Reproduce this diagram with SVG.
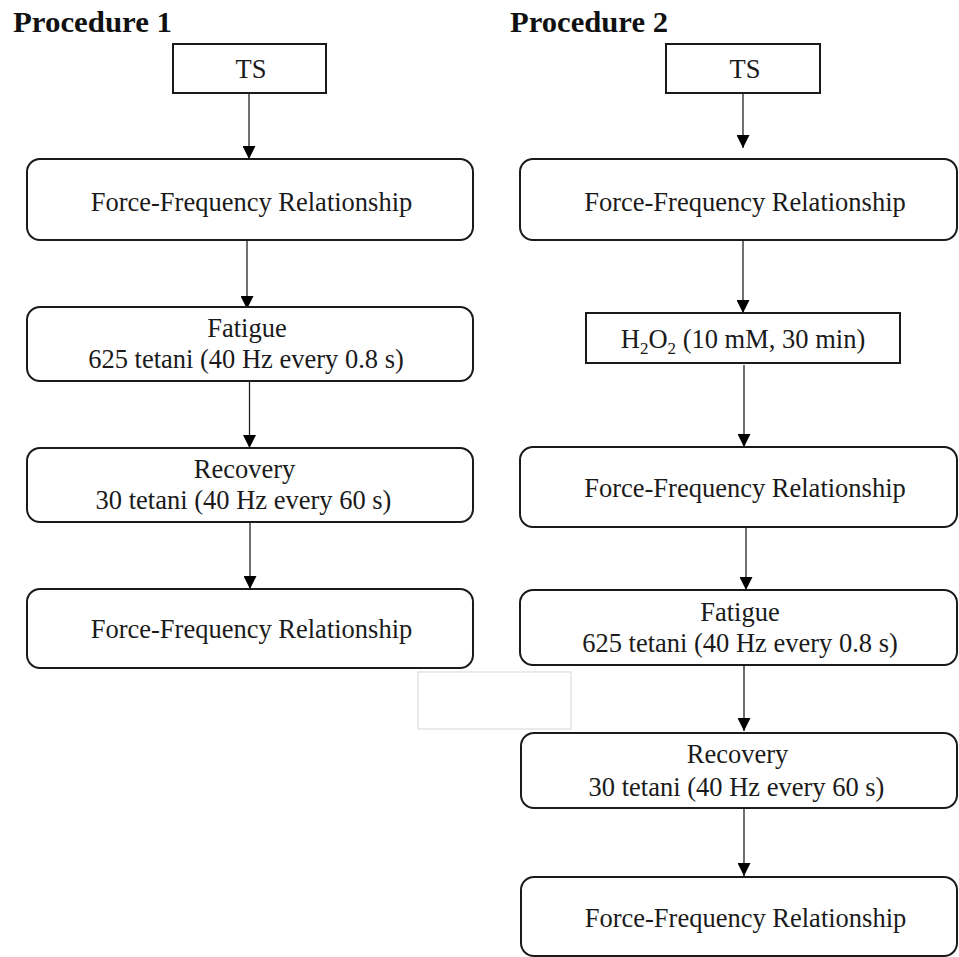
<svg xmlns="http://www.w3.org/2000/svg" width="959" height="957" viewBox="0 0 959 957">
<defs>
<marker id="ah" markerUnits="userSpaceOnUse" markerWidth="13" markerHeight="13" viewBox="0 0 12 12" refX="12" refY="6" orient="auto">
<path d="M0,0 L12,6 L0,12 Z" fill="#000"/>
</marker>
<style>
.box{fill:#fff;stroke:#1a1a1a;stroke-width:2}
.t{font-family:"Liberation Serif","Times New Roman",serif;font-size:26.5px;fill:#1a1a1a;text-anchor:middle}
.h{font-family:"Liberation Serif","Times New Roman",serif;font-size:29px;font-weight:bold;fill:#111}
.c{stroke:#222;stroke-width:1.3;fill:none;marker-end:url(#ah)}
</style>
</defs>
<rect width="959" height="957" fill="#fff"/>
<text class="h" x="13" y="32" textLength="159" lengthAdjust="spacingAndGlyphs">Procedure 1</text>
<text class="h" x="510" y="32" textLength="158" lengthAdjust="spacingAndGlyphs">Procedure 2</text>
<rect x="418" y="672" width="153" height="57" fill="none" stroke="#d6d6d6" stroke-width="1"/>
<g id="connectors">
<line class="c" x1="249" y1="93" x2="249" y2="159"/>
<line class="c" x1="247" y1="240" x2="247" y2="309"/>
<line class="c" x1="249.5" y1="381" x2="249.5" y2="448"/>
<line class="c" x1="250" y1="522" x2="250" y2="589"/>
<line class="c" x1="743" y1="93" x2="743" y2="148"/>
<line class="c" x1="743" y1="240" x2="743" y2="313"/>
<line class="c" x1="744" y1="365" x2="744" y2="447"/>
<line class="c" x1="746" y1="527" x2="746" y2="590"/>
<line class="c" x1="744" y1="665" x2="744" y2="731"/>
<line class="c" x1="744" y1="808" x2="744" y2="876"/>
</g>
<g id="p1-ts"><rect class="box" x="173" y="44" width="153" height="49"/><text class="t" x="251" y="78">TS</text></g>
<g id="p1-ffr1"><rect class="box" x="27" y="159" width="446" height="81" rx="13"/><text class="t" x="251.5" y="211">Force-Frequency Relationship</text></g>
<g id="p1-fatigue"><rect class="box" x="27" y="307" width="446" height="74" rx="13"/><text class="t" x="247" y="337">Fatigue</text><text class="t" x="246" y="368">625 tetani (40 Hz every 0.8 s)</text></g>
<g id="p1-recovery"><rect class="box" x="27" y="448" width="446" height="74" rx="13"/><text class="t" x="244.5" y="478">Recovery</text><text class="t" x="243.5" y="509">30 tetani (40 Hz every 60 s)</text></g>
<g id="p1-ffr2"><rect class="box" x="27" y="589" width="446" height="79" rx="13"/><text class="t" x="251.5" y="638">Force-Frequency Relationship</text></g>
<g id="p2-ts"><rect class="box" x="666" y="44" width="154" height="49"/><text class="t" x="745" y="78">TS</text></g>
<g id="p2-ffr1"><rect class="box" x="520" y="159" width="437" height="81" rx="13"/><text class="t" x="745" y="211">Force-Frequency Relationship</text></g>
<g id="p2-h2o2"><rect class="box" x="586" y="313" width="314" height="50"/><text class="t" x="743" y="348">H<tspan font-size="17" dy="6">2</tspan><tspan dy="-6">O</tspan><tspan font-size="17" dy="6">2</tspan><tspan dy="-6"> (10 mM, 30 min)</tspan></text></g>
<g id="p2-ffr2"><rect class="box" x="520" y="447" width="437" height="80" rx="13"/><text class="t" x="745" y="497">Force-Frequency Relationship</text></g>
<g id="p2-fatigue"><rect class="box" x="520" y="590" width="437" height="75" rx="13"/><text class="t" x="740" y="621">Fatigue</text><text class="t" x="740" y="652">625 tetani (40 Hz every 0.8 s)</text></g>
<g id="p2-recovery"><rect class="box" x="521" y="733" width="436" height="75" rx="13"/><text class="t" x="737.5" y="763">Recovery</text><text class="t" x="736.5" y="796">30 tetani (40 Hz every 60 s)</text></g>
<g id="p2-ffr3"><rect class="box" x="521" y="877" width="436" height="79" rx="13"/><text class="t" x="745.5" y="927">Force-Frequency Relationship</text></g>
</svg>
